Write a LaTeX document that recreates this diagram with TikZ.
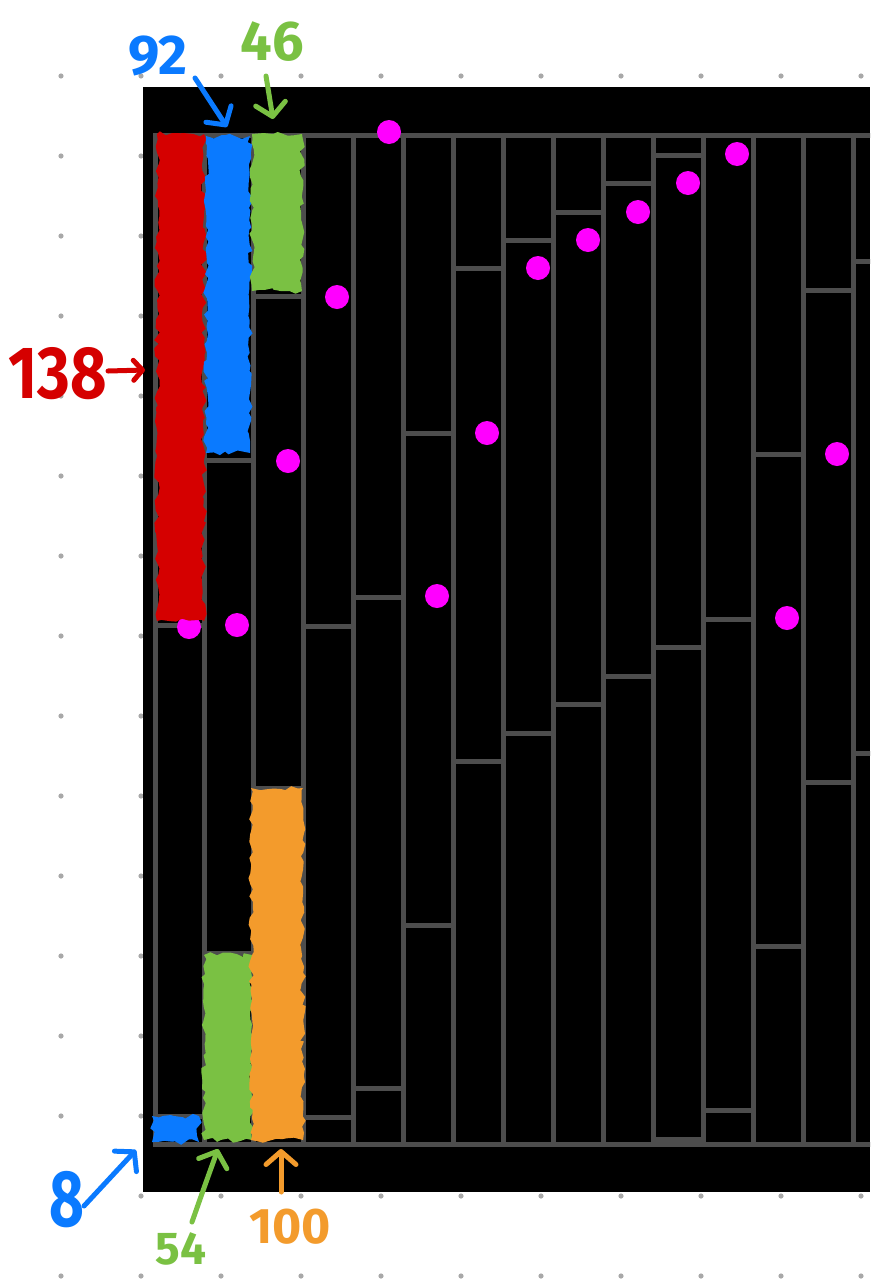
\documentclass[tikz,border=0pt]{standalone}
\usepackage{fontspec}
\setmainfont{Fira Sans}
\usetikzlibrary{arrows.meta,decorations.pathmorphing}
\definecolor{wallgray}{HTML}{4D4D4D}
\definecolor{dotgray}{HTML}{A8A8A8}
\definecolor{hred}{HTML}{D50000}
\definecolor{hblue}{HTML}{0A7AFF}
\definecolor{hgreen}{HTML}{7AC143}
\definecolor{horange}{HTML}{F39B2C}
\definecolor{pmag}{HTML}{FF00FF}
\tikzset{
  wall/.style={draw=wallgray, line width=5pt},
  pdot/.style={fill=pmag},
  scribble/.style={fill=#1, decorate, decoration={random steps, segment length=6pt, amplitude=2.8pt}},
  hand/.style={inner sep=0pt, font=\fontsize{#1}{#1}\selectfont\bfseries},
  annarrow/.style={draw=#1, line width=5pt, line cap=round, line join=round,
    -{Straight Barb[length=13pt, width=30pt, round]}},
}
\begin{document}
\begin{tikzpicture}[x=1pt,y=-1pt]
\useasboundingbox (0,0) rectangle (888,1280);
\fill[white] (0,0) rectangle (888,1280);
% dot grid
\foreach \i in {0,...,10}
  \foreach \j in {0,...,15}
    \fill[dotgray] (61+80*\i, 76+80*\j) circle[radius=2.6];
% black field
\fill[black] (143,87) rectangle (870,1192);
% walls
\begin{scope}
\clip (143,87) rectangle (870,1192);
\draw[wall] (153,135) -- (875,135);
\draw[wall] (153,1144) -- (875,1144);
\foreach \x in {155,204,253,303,353,403,453,503,553,603,653,703,753,803,853}
  \draw[wall] (\x,135) -- (\x,1144);
\foreach \xa/\xb/\ys in {155/204/{625,1116}, 204/253/{460,953}, 253/303/{296,788},
  303/353/{626,1117}, 353/403/{597,1088}, 403/453/{433,925}, 453/503/{268,761},
  503/553/{240,733}, 553/603/{212,704}, 603/653/{183,676}, 653/703/{155,647,1139},
  703/753/{619,1110}, 753/803/{454,946}, 803/853/{290,782}, 853/875/{261,753}}
  \foreach \y in \ys
    \draw[wall] (\xa,\y) -- (\xb,\y);
\end{scope}
% magenta dots
\foreach \px/\py in {389/132, 337/297, 288/461, 237/625, 189/627, 437/596, 487/433,
  538/268, 588/240, 638/212, 688/183, 737/154, 837/454, 787/618}
  \fill[pdot] (\px,\py) circle[radius=12];
% scribbles
\pgfmathsetseed{7}
\fill[scribble=hred] (157,134) rectangle (204,621);
\fill[scribble=hblue] (206,136) rectangle (250,453);
\fill[scribble=hgreen] (252,134) rectangle (302,291);
\fill[scribble=hblue] (152,1116) rectangle (199,1142);
\fill[scribble=hgreen] (204,955) rectangle (252,1140);
\fill[scribble=horange] (251,788) rectangle (303,1140);
% labels
\node[hand=56, text=hblue] (t92) at (158,56) {92};
\node[hand=56, text=hgreen] (t46) at (272,42) {46};
\node[hand=74, text=hred, xscale=0.85] (t138) at (58,374) {138};
\node[hand=80, text=hblue, xscale=0.75] (t8) at (67,1200) {8};
\node[hand=46, text=hgreen] (t54) at (181,1249) {54};
\node[hand=50, text=horange] (t100) at (290,1227) {100};
% arrow ends
\coordinate (s92) at (195,78);   \coordinate (e92) at (227,127);
\coordinate (s46) at (266,76);   \coordinate (e46) at (273,119);
\coordinate (s138) at (108,371); \coordinate (e138) at (145,370);
\coordinate (s8) at (84,1206);   \coordinate (e8) at (136,1150);
\coordinate (s54) at (192,1222); \coordinate (e54) at (218,1149);
\coordinate (s100) at (281,1192);\coordinate (e100) at (281,1149);
\draw[annarrow=hblue] (s92) -- (e92);
\draw[annarrow=hgreen] (s46) -- (e46);
\draw[annarrow=hred, -{Straight Barb[length=9pt, width=20pt, round]}] (s138) -- (e138);
\draw[annarrow=hblue] (s8) -- (e8);
\draw[annarrow=hgreen] (s54) .. controls (205,1185) .. (e54);
\draw[annarrow=horange] (s100) -- (e100);
\end{tikzpicture}
\end{document}
